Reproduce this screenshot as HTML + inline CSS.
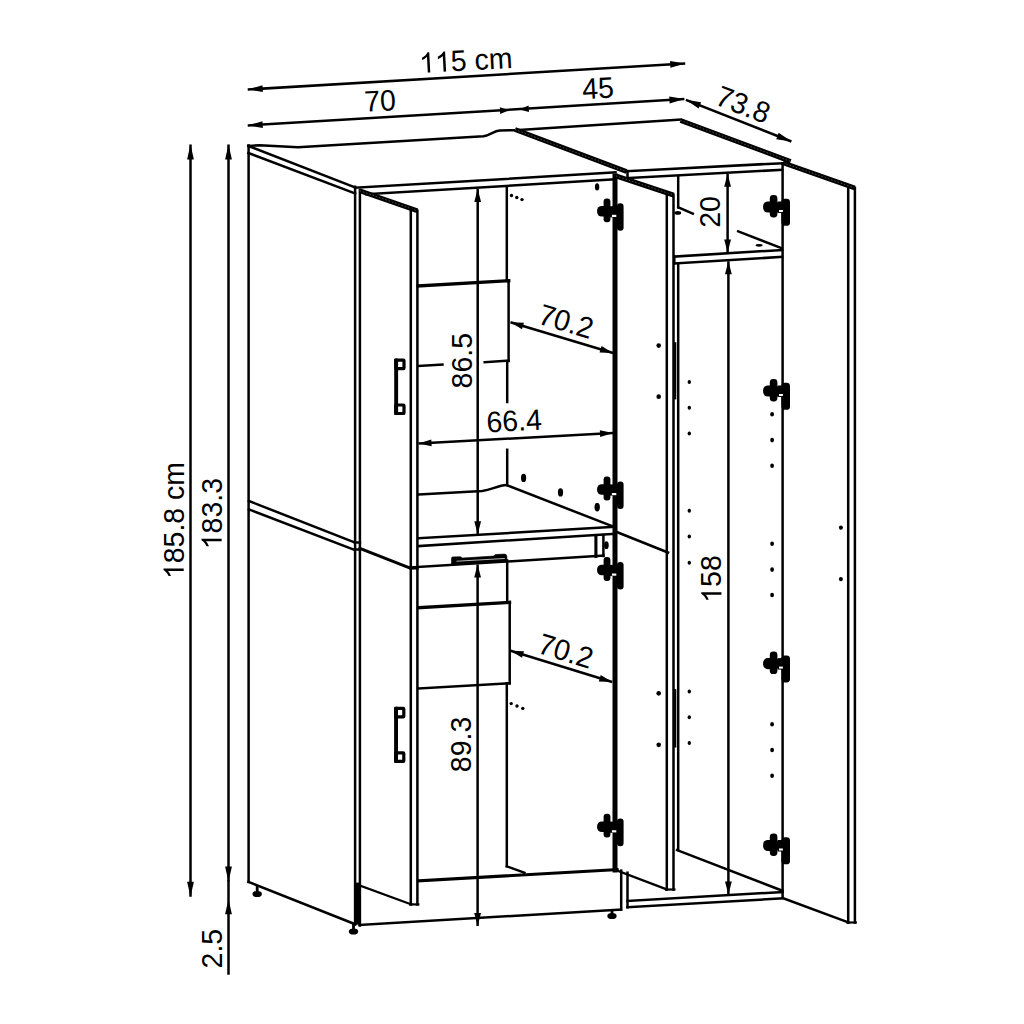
<!DOCTYPE html>
<html><head><meta charset="utf-8"><style>
html,body{margin:0;padding:0;background:#fff;}
svg{display:block;}
text{font-family:"Liberation Sans",sans-serif;fill:#000;stroke:none;}
</style></head><body>
<svg width="1024" height="1024" viewBox="0 0 1024 1024" stroke="#000" fill="none" stroke-linecap="square" stroke-linejoin="round">
<rect x="0" y="0" width="1024" height="1024" fill="#fff" stroke="none"/>
<line x1="247.7" y1="89.5" x2="685.2" y2="63.5" stroke-width="2.5" stroke-linecap="butt"/>
<path d="M247.70,89.50 L262.47,85.22 L262.88,92.00 Z" fill="#000" stroke="none"/>
<path d="M685.20,63.50 L670.43,67.78 L670.02,61.00 Z" fill="#000" stroke="none"/>
<line x1="247.7" y1="125.5" x2="684.4" y2="99.1" stroke-width="2.5" stroke-linecap="butt"/>
<path d="M247.70,125.50 L262.47,121.20 L262.88,127.99 Z" fill="#000" stroke="none"/>
<path d="M509.50,110.10 L500.21,113.95 L499.82,107.36 Z" fill="#000" stroke="none"/>
<path d="M519.30,109.40 L528.58,105.51 L528.99,112.10 Z" fill="#000" stroke="none"/>
<path d="M684.40,99.10 L669.63,103.40 L669.22,96.61 Z" fill="#000" stroke="none"/>
<line x1="685.9" y1="99.8" x2="791.4" y2="141.5" stroke-width="2.5" stroke-linecap="butt"/>
<path d="M685.90,99.80 L701.10,102.15 L698.60,108.48 Z" fill="#000" stroke="none"/>
<path d="M791.40,141.50 L776.20,139.15 L778.70,132.82 Z" fill="#000" stroke="none"/>
<line x1="190.5" y1="144.5" x2="190.5" y2="896.8" stroke-width="2.5" stroke-linecap="butt"/>
<path d="M190.50,144.50 L193.90,159.50 L187.10,159.50 Z" fill="#000" stroke="none"/>
<path d="M190.50,896.80 L187.10,881.80 L193.90,881.80 Z" fill="#000" stroke="none"/>
<line x1="228.5" y1="144.5" x2="228.5" y2="881.6" stroke-width="2.5" stroke-linecap="butt"/>
<path d="M228.50,144.50 L231.90,159.50 L225.10,159.50 Z" fill="#000" stroke="none"/>
<path d="M228.50,881.60 L225.10,866.60 L231.90,866.60 Z" fill="#000" stroke="none"/>
<line x1="228.5" y1="881.6" x2="228.5" y2="973.5" stroke-width="2.5"/>
<path d="M228.50,899.30 L231.90,914.30 L225.10,914.30 Z" fill="#000" stroke="none"/>
<line x1="477.7" y1="189.0" x2="477.7" y2="534.3" stroke-width="2.5" stroke-linecap="butt"/>
<path d="M477.70,189.00 L481.10,202.00 L474.30,202.00 Z" fill="#000" stroke="none"/>
<path d="M477.70,534.30 L474.30,521.30 L481.10,521.30 Z" fill="#000" stroke="none"/>
<line x1="477.6" y1="564.5" x2="477.6" y2="926.0" stroke-width="2.5" stroke-linecap="butt"/>
<path d="M477.60,564.50 L481.00,577.50 L474.20,577.50 Z" fill="#000" stroke="none"/>
<path d="M477.60,926.00 L474.20,913.00 L481.00,913.00 Z" fill="#000" stroke="none"/>
<line x1="510.5" y1="322.3" x2="613.0" y2="353.0" stroke-width="2.5" stroke-linecap="butt"/>
<path d="M510.50,322.30 L523.93,322.77 L521.98,329.29 Z" fill="#000" stroke="none"/>
<path d="M613.00,353.00 L599.57,352.53 L601.52,346.01 Z" fill="#000" stroke="none"/>
<line x1="418.5" y1="443.5" x2="613.0" y2="433.0" stroke-width="2.5" stroke-linecap="butt"/>
<path d="M418.50,443.50 L431.30,439.40 L431.66,446.19 Z" fill="#000" stroke="none"/>
<path d="M613.00,433.00 L600.20,437.10 L599.84,430.31 Z" fill="#000" stroke="none"/>
<line x1="510.6" y1="650.8" x2="612.2" y2="682.0" stroke-width="2.5" stroke-linecap="butt"/>
<path d="M510.60,650.80 L524.03,651.37 L522.03,657.87 Z" fill="#000" stroke="none"/>
<path d="M612.20,682.00 L598.77,681.43 L600.77,674.93 Z" fill="#000" stroke="none"/>
<line x1="727.6" y1="173.8" x2="727.6" y2="252.5" stroke-width="2.5" stroke-linecap="butt"/>
<path d="M727.60,173.80 L731.00,186.80 L724.20,186.80 Z" fill="#000" stroke="none"/>
<path d="M727.60,252.50 L724.20,239.50 L731.00,239.50 Z" fill="#000" stroke="none"/>
<line x1="728.4" y1="261.3" x2="728.4" y2="894.6" stroke-width="2.5" stroke-linecap="butt"/>
<path d="M728.40,261.30 L731.80,274.30 L725.00,274.30 Z" fill="#000" stroke="none"/>
<path d="M728.40,894.60 L725.00,881.60 L731.80,881.60 Z" fill="#000" stroke="none"/>
<line x1="248.6" y1="145.5" x2="248.6" y2="881.9" stroke-width="2.5"/>
<line x1="248.4" y1="146" x2="355.1" y2="187.5" stroke-width="2.5"/>
<line x1="248.4" y1="153" x2="355.1" y2="193.5" stroke-width="2.5"/>
<path d="M248.4,146 L259.5,145.2 L298,147.3 L483.4,136.3 C490,135 494,131 499.8,130.5 L515,130.2 L680.5,119.5" stroke-width="2.5" fill="none" />
<line x1="248.9" y1="501" x2="354.6" y2="542.4" stroke-width="2.5"/>
<line x1="248.9" y1="509.4" x2="354.6" y2="550" stroke-width="2.5"/>
<line x1="248.5" y1="881.9" x2="355.3" y2="924.3" stroke-width="2.5"/>
<line x1="355.1" y1="186.8" x2="355.1" y2="924.3" stroke-width="2.5"/>
<line x1="359.9" y1="190" x2="359.9" y2="925.5" stroke-width="2.5"/>
<rect x="354.3" y="882.6" width="5.2" height="42" fill="#000" stroke="none"/>
<rect x="255.79999999999998" y="885" width="2.8" height="8.5" fill="#000" stroke="none"/>
<ellipse cx="257.2" cy="894.0" rx="4.7" ry="3.1" fill="#000" stroke="none"/>
<rect x="352.1" y="924" width="2.8" height="7" fill="#000" stroke="none"/>
<ellipse cx="353.5" cy="931.5" rx="4.7" ry="3.1" fill="#000" stroke="none"/>
<rect x="610.6" y="909" width="2.8" height="6.5" fill="#000" stroke="none"/>
<ellipse cx="612.0" cy="916.0" rx="4.7" ry="3.1" fill="#000" stroke="none"/>
<line x1="355.1" y1="187.8" x2="615.5" y2="172.4" stroke-width="2.5"/>
<line x1="366.0" y1="194.3" x2="614.2" y2="179.4" stroke-width="2.5"/>
<line x1="515" y1="129.6" x2="626.5" y2="171.6" stroke-width="4.8" stroke-linecap="butt"/>
<line x1="515" y1="129.6" x2="626.5" y2="171.6" stroke="#fff" stroke-opacity="0.3" stroke-width="1.0" stroke-dasharray="1.5 1.9" stroke-linecap="butt"/>
<line x1="626.5" y1="171.2" x2="782" y2="163.2" stroke-width="2.5"/>
<line x1="629.2" y1="178.0" x2="782" y2="169.8" stroke-width="2.5"/>
<line x1="627.5" y1="171.1" x2="627.5" y2="177.5" stroke-width="2.5"/>
<line x1="680.5" y1="120.4" x2="790.6" y2="161.4" stroke-width="4.8" stroke-linecap="butt"/>
<line x1="680.5" y1="120.4" x2="790.6" y2="161.4" stroke="#fff" stroke-opacity="0.3" stroke-width="1.0" stroke-dasharray="1.5 1.9" stroke-linecap="butt"/>
<line x1="783.0" y1="162.8" x2="854.8" y2="188.0" stroke-width="4.8" stroke-linecap="butt"/>
<line x1="783.0" y1="162.8" x2="854.8" y2="188.0" stroke="#fff" stroke-opacity="0.3" stroke-width="1.0" stroke-dasharray="1.5 1.9" stroke-linecap="butt"/>
<line x1="359.7" y1="190.7" x2="417.3" y2="210.8" stroke-width="4.8" stroke-linecap="butt"/>
<line x1="359.7" y1="190.7" x2="417.3" y2="210.8" stroke="#fff" stroke-opacity="0.3" stroke-width="1.0" stroke-dasharray="1.5 1.9" stroke-linecap="butt"/>
<line x1="410.8" y1="208.5" x2="410.8" y2="904.4" stroke-width="2.5"/>
<line x1="417.4" y1="210.8" x2="417.4" y2="904.4" stroke-width="2.5"/>
<line x1="359.9" y1="548.4" x2="410.7" y2="568.3" stroke-width="3.0"/>
<line x1="354.9" y1="542.5" x2="359.9" y2="542.5" stroke-width="2.5"/>
<line x1="354.9" y1="549.5" x2="359.9" y2="549.5" stroke-width="2.5"/>
<line x1="410.7" y1="568.3" x2="417.3" y2="568.3" stroke-width="2.5"/>
<line x1="360.6" y1="885.8" x2="411.2" y2="904.4" stroke-width="2.2"/>
<line x1="410.3" y1="904.4" x2="418.3" y2="904.4" stroke-width="2.2"/>
<rect x="394.2" y="358.5" width="3.9" height="56.60" rx="0.8" fill="#000" stroke="none"/>
<rect x="395.80" y="360.10" width="8.20" height="8.50" rx="0.6" fill="none" stroke-width="3.2"/>
<rect x="395.80" y="405.00" width="8.20" height="8.50" rx="0.6" fill="none" stroke-width="3.2"/>
<rect x="394.1" y="706.7" width="3.9" height="56.30" rx="0.8" fill="#000" stroke="none"/>
<rect x="395.70" y="708.30" width="8.10" height="8.50" rx="0.6" fill="none" stroke-width="3.2"/>
<rect x="395.70" y="752.90" width="8.10" height="8.50" rx="0.6" fill="none" stroke-width="3.2"/>
<line x1="506.8" y1="186.7" x2="506.8" y2="281" stroke-width="2.5"/>
<line x1="418.2" y1="286.0" x2="508.7" y2="280.7" stroke-width="3.4"/>
<line x1="508.6" y1="280.7" x2="508.6" y2="361" stroke-width="2.5"/>
<line x1="418.5" y1="366.0" x2="442.5" y2="364.6" stroke-width="2.5"/>
<line x1="484.7" y1="362.2" x2="508.6" y2="360.6" stroke-width="2.5"/>
<line x1="507.2" y1="362" x2="507.2" y2="402" stroke-width="2.5"/>
<line x1="507.2" y1="449.8" x2="507.2" y2="485" stroke-width="2.5"/>
<path d="M418.5,494.6 L482.3,490.9 C492,489.5 498,485.5 506.5,485.0" stroke-width="2.5" fill="none" />
<line x1="507.2" y1="485.4" x2="613.5" y2="526.6" stroke-width="2.5"/>
<ellipse cx="523.6" cy="477.9" rx="2.6" ry="4.2" fill="#000" stroke="none"/>
<ellipse cx="560.5" cy="492.4" rx="2.6" ry="4.2" fill="#000" stroke="none"/>
<ellipse cx="597.2" cy="507.2" rx="2.6" ry="4.2" fill="#000" stroke="none"/>
<ellipse cx="597.1" cy="186.9" rx="2.2" ry="3.6" fill="#000" stroke="none"/>
<ellipse cx="511.5" cy="195.5" rx="1.7" ry="1.7" fill="#000" stroke="none"/>
<ellipse cx="516.8" cy="197.5" rx="1.7" ry="1.7" fill="#000" stroke="none"/>
<ellipse cx="522.0" cy="199.6" rx="1.7" ry="1.7" fill="#000" stroke="none"/>
<line x1="418.6" y1="538.2" x2="614.1" y2="526.9" stroke-width="2.5"/>
<line x1="418.6" y1="546.1" x2="614.7" y2="533.8" stroke-width="2.5"/>
<line x1="615.0" y1="526.9" x2="615.0" y2="533.8" stroke-width="2.5"/>
<line x1="595.9" y1="535.5" x2="595.9" y2="556.4" stroke-width="3.1"/>
<line x1="603.4" y1="535.0" x2="603.4" y2="556.0" stroke-width="2.5"/>
<ellipse cx="606.4" cy="545.2" rx="2.3" ry="3.9" fill="#000" stroke="none"/>
<line x1="410" y1="567.4" x2="603.4" y2="555.6" stroke-width="2.5"/>
<path d="M451.5,564.6 L451.5,558 Q451.6,556.9 453,556.9 L460.5,556.7 L462.5,558.0 L493.5,556.1 L495.5,554.5 L504.5,554.1 Q506.9,554.3 506.9,556.5 L506.9,561.0 Z" stroke-width="0.6" fill="#000" />
<line x1="457" y1="561.2" x2="504.3" y2="558.5" stroke="#fff" stroke-width="0.8" stroke-opacity="0.9"/>
<line x1="507.2" y1="560.5" x2="507.2" y2="602.0" stroke-width="2.5"/>
<line x1="418.6" y1="607.7" x2="509.5" y2="602.4" stroke-width="3.4"/>
<line x1="509.7" y1="602.4" x2="509.7" y2="683.3" stroke-width="2.5"/>
<line x1="418.8" y1="688.4" x2="509.7" y2="683.3" stroke-width="2.5"/>
<line x1="506.8" y1="683.3" x2="506.8" y2="866.3" stroke-width="2.5"/>
<line x1="506.8" y1="866.3" x2="524.4" y2="872.7" stroke-width="2.5"/>
<ellipse cx="511.2" cy="703.6" rx="1.7" ry="1.7" fill="#000" stroke="none"/>
<ellipse cx="517.0" cy="706.0" rx="1.7" ry="1.7" fill="#000" stroke="none"/>
<ellipse cx="522.8" cy="708.4" rx="1.7" ry="1.7" fill="#000" stroke="none"/>
<line x1="418.8" y1="880.8" x2="617.1" y2="869.6" stroke-width="3.2"/>
<line x1="359.5" y1="925.0" x2="621.0" y2="909.5" stroke-width="2.5"/>
<line x1="615.0" y1="176.0" x2="615.0" y2="870.0" stroke-width="5.0"/>
<line x1="615.8" y1="175.9" x2="673.7" y2="195.1" stroke-width="4.8" stroke-linecap="butt"/>
<line x1="615.8" y1="175.9" x2="673.7" y2="195.1" stroke="#fff" stroke-opacity="0.3" stroke-width="1.0" stroke-dasharray="1.5 1.9" stroke-linecap="butt"/>
<line x1="666.8" y1="193.5" x2="666.8" y2="889.5" stroke-width="2.5"/>
<line x1="673.5" y1="195.1" x2="673.5" y2="889.5" stroke-width="2.5"/>
<line x1="617.3" y1="532.2" x2="668.0" y2="552.5" stroke-width="2.6"/>
<line x1="617.1" y1="870.6" x2="667.0" y2="889.5" stroke-width="2.2"/>
<line x1="666.0" y1="889.5" x2="674.4" y2="889.5" stroke-width="2.2"/>
<ellipse cx="658.7" cy="345.6" rx="2.3" ry="2.4" fill="#000" stroke="none"/>
<ellipse cx="658.7" cy="396.7" rx="2.3" ry="2.4" fill="#000" stroke="none"/>
<ellipse cx="658.7" cy="693.3" rx="2.3" ry="2.4" fill="#000" stroke="none"/>
<ellipse cx="658.7" cy="744.8" rx="2.3" ry="2.4" fill="#000" stroke="none"/>
<g transform="translate(614.6,198.4)" fill="#000" stroke="none"><rect x="-11.0" y="0.0" width="6.8" height="23.8" rx="3.0"/><rect x="-17.5" y="7.6" width="14.0" height="10.6" rx="4.6"/><rect x="2.4" y="4.8" width="6.6" height="27.6" rx="3.2"/><rect x="-5" y="7.8" width="7" height="11.2" rx="0"/><rect x="-2.7" y="16.4" width="4.4" height="2.2" fill="#fff"/></g>
<g transform="translate(614.6,476.6)" fill="#000" stroke="none"><rect x="-11.0" y="0.0" width="6.8" height="23.8" rx="3.0"/><rect x="-17.5" y="7.6" width="14.0" height="10.6" rx="4.6"/><rect x="2.4" y="4.8" width="6.6" height="27.6" rx="3.2"/><rect x="-5" y="7.8" width="7" height="11.2" rx="0"/><rect x="-2.7" y="16.4" width="4.4" height="2.2" fill="#fff"/></g>
<g transform="translate(614.6,557.1)" fill="#000" stroke="none"><rect x="-11.0" y="0.0" width="6.8" height="23.8" rx="3.0"/><rect x="-17.5" y="7.6" width="14.0" height="10.6" rx="4.6"/><rect x="2.4" y="4.8" width="6.6" height="27.6" rx="3.2"/><rect x="-5" y="7.8" width="7" height="11.2" rx="0"/><rect x="-2.7" y="16.4" width="4.4" height="2.2" fill="#fff"/></g>
<g transform="translate(614.6,813.8)" fill="#000" stroke="none"><rect x="-11.0" y="0.0" width="6.8" height="23.8" rx="3.0"/><rect x="-17.5" y="7.6" width="14.0" height="10.6" rx="4.6"/><rect x="2.4" y="4.8" width="6.6" height="27.6" rx="3.2"/><rect x="-5" y="7.8" width="7" height="11.2" rx="0"/><rect x="-2.7" y="16.4" width="4.4" height="2.2" fill="#fff"/></g>
<ellipse cx="597.1" cy="506.7" rx="2.3" ry="3.7" fill="#000" stroke="none"/>
<line x1="621.2" y1="870.6" x2="621.2" y2="909.5" stroke-width="2.5"/>
<line x1="627.5" y1="872.7" x2="627.5" y2="907.3" stroke-width="2.5"/>
<line x1="627.5" y1="901.0" x2="782.5" y2="892.0" stroke-width="2.5"/>
<line x1="627.5" y1="907.3" x2="782.5" y2="898.4" stroke-width="2.5"/>
<line x1="678.2" y1="176.7" x2="678.2" y2="207.4" stroke-width="2.5"/>
<line x1="678.4" y1="207.4" x2="692.8" y2="213.6" stroke-width="2.5"/>
<ellipse cx="677.8" cy="212.9" rx="3.4" ry="1.8" fill="#000" stroke="none"/>
<line x1="674.3" y1="256.6" x2="782.0" y2="250.0" stroke-width="2.5"/>
<line x1="674.3" y1="263.5" x2="782.0" y2="256.9" stroke-width="2.5"/>
<line x1="674.3" y1="256.6" x2="674.3" y2="263.5" stroke-width="2.5"/>
<line x1="738.2" y1="231.3" x2="781.0" y2="248.0" stroke-width="2.5"/>
<ellipse cx="759.1" cy="245.3" rx="3.5" ry="1.4" fill="#000" stroke="none"/>
<line x1="678.2" y1="263.5" x2="678.2" y2="850.1" stroke-width="2.5"/>
<line x1="677.1" y1="850.1" x2="782.5" y2="890.8" stroke-width="2.5"/>
<line x1="675.2" y1="343.3" x2="675.2" y2="398.3" stroke-width="2.2"/>
<line x1="675.2" y1="690.2" x2="675.2" y2="746.5" stroke-width="2.2"/>
<ellipse cx="689.3" cy="382" rx="1.7" ry="2.0" fill="#000" stroke="none"/>
<ellipse cx="689.3" cy="407.7" rx="1.7" ry="2.0" fill="#000" stroke="none"/>
<ellipse cx="689.3" cy="433.5" rx="1.7" ry="2.0" fill="#000" stroke="none"/>
<ellipse cx="689.3" cy="510.8" rx="1.7" ry="2.0" fill="#000" stroke="none"/>
<ellipse cx="689.3" cy="536.5" rx="1.7" ry="2.0" fill="#000" stroke="none"/>
<ellipse cx="689.3" cy="562.7" rx="1.7" ry="2.0" fill="#000" stroke="none"/>
<ellipse cx="689.3" cy="691.4" rx="1.7" ry="2.0" fill="#000" stroke="none"/>
<ellipse cx="689.3" cy="717.2" rx="1.7" ry="2.0" fill="#000" stroke="none"/>
<ellipse cx="689.3" cy="743" rx="1.7" ry="2.0" fill="#000" stroke="none"/>
<ellipse cx="772.1" cy="414.3" rx="1.9" ry="2.3" fill="#000" stroke="none"/>
<ellipse cx="772.1" cy="440.1" rx="1.9" ry="2.3" fill="#000" stroke="none"/>
<ellipse cx="772.1" cy="465.8" rx="1.9" ry="2.3" fill="#000" stroke="none"/>
<ellipse cx="772.1" cy="543.8" rx="1.9" ry="2.3" fill="#000" stroke="none"/>
<ellipse cx="772.1" cy="569.6" rx="1.9" ry="2.3" fill="#000" stroke="none"/>
<ellipse cx="772.1" cy="595" rx="1.9" ry="2.3" fill="#000" stroke="none"/>
<ellipse cx="772.1" cy="724.2" rx="1.9" ry="2.3" fill="#000" stroke="none"/>
<ellipse cx="772.1" cy="750" rx="1.9" ry="2.3" fill="#000" stroke="none"/>
<ellipse cx="772.1" cy="775.8" rx="1.9" ry="2.3" fill="#000" stroke="none"/>
<line x1="782.6" y1="163.2" x2="782.6" y2="897.5" stroke-width="2.5"/>
<g transform="translate(782.6,195.0)" fill="#000" stroke="none"><rect x="-12.8" y="0.0" width="7.6" height="22.5" rx="3.4"/><rect x="-19.5" y="6.4" width="16.5" height="11.2" rx="4.8"/><rect x="-1.2" y="3.8" width="8.6" height="27.0" rx="3.4"/><rect x="-5" y="6.5" width="6" height="11.5" rx="0"/><rect x="-3.6" y="15.0" width="3.9" height="2.0" fill="#fff"/></g>
<g transform="translate(782.6,379.0)" fill="#000" stroke="none"><rect x="-12.8" y="0.0" width="7.6" height="22.5" rx="3.4"/><rect x="-19.5" y="6.4" width="16.5" height="11.2" rx="4.8"/><rect x="-1.2" y="3.8" width="8.6" height="27.0" rx="3.4"/><rect x="-5" y="6.5" width="6" height="11.5" rx="0"/><rect x="-3.6" y="15.0" width="3.9" height="2.0" fill="#fff"/></g>
<g transform="translate(782.6,651.6)" fill="#000" stroke="none"><rect x="-12.8" y="0.0" width="7.6" height="22.5" rx="3.4"/><rect x="-19.5" y="6.4" width="16.5" height="11.2" rx="4.8"/><rect x="-1.2" y="3.8" width="8.6" height="27.0" rx="3.4"/><rect x="-5" y="6.5" width="6" height="11.5" rx="0"/><rect x="-3.6" y="15.0" width="3.9" height="2.0" fill="#fff"/></g>
<g transform="translate(782.6,833.5)" fill="#000" stroke="none"><rect x="-12.8" y="0.0" width="7.6" height="22.5" rx="3.4"/><rect x="-19.5" y="6.4" width="16.5" height="11.2" rx="4.8"/><rect x="-1.2" y="3.8" width="8.6" height="27.0" rx="3.4"/><rect x="-5" y="6.5" width="6" height="11.5" rx="0"/><rect x="-3.6" y="15.0" width="3.9" height="2.0" fill="#fff"/></g>
<line x1="848.2" y1="189.0" x2="848.2" y2="922.5" stroke-width="2.5"/>
<line x1="854.9" y1="188.0" x2="854.9" y2="922.5" stroke-width="2.5"/>
<line x1="783.8" y1="898.4" x2="848.5" y2="922.5" stroke-width="2.5"/>
<line x1="847.3" y1="922.5" x2="855.8" y2="922.5" stroke-width="2.2"/>
<ellipse cx="840.9" cy="527.6" rx="2.0" ry="2.2" fill="#000" stroke="none"/>
<ellipse cx="840.9" cy="579.1" rx="2.0" ry="2.2" fill="#000" stroke="none"/>
<g transform="translate(466.35,70.5) rotate(-3) scale(1,1.035)"><path transform="translate(-46.73,0) scale(0.01392,-0.01324)" d="M763 0H583V1147Q518 1085 412.5 1023T223 930V1104Q375 1175 489 1276T650 1472H763V0Z" fill="#000" stroke="none"/><path transform="translate(-30.88,0) scale(0.01392,-0.01324)" d="M763 0H583V1147Q518 1085 412.5 1023T223 930V1104Q375 1175 489 1276T650 1472H763V0Z" fill="#000" stroke="none"/><text y="0" font-size="28.5"><tspan x="-15.03">5</tspan><tspan x="8.74">c</tspan><tspan x="22.99">m</tspan></text></g>
<g transform="translate(380.57,111.0) rotate(-3) scale(1,1.035)"><text y="0" font-size="28.5"><tspan x="-15.85">7</tspan><tspan x="0.00">0</tspan></text></g>
<g transform="translate(598.45,98.35) rotate(-3) scale(1,1.035)"><text y="0" font-size="28.5"><tspan x="-15.85">4</tspan><tspan x="0.00">5</tspan></text></g>
<g transform="translate(739.5,114.05) rotate(21.3) scale(1,1.035)"><text y="0" font-size="28.5"><tspan x="-27.73">7</tspan><tspan x="-11.88">3</tspan><tspan x="3.97">.</tspan><tspan x="11.88">8</tspan></text></g>
<g transform="translate(183.7,520.5) rotate(-90) scale(1,1.035)"><path transform="translate(-58.61,0) scale(0.01392,-0.01324)" d="M763 0H583V1147Q518 1085 412.5 1023T223 930V1104Q375 1175 489 1276T650 1472H763V0Z" fill="#000" stroke="none"/><text y="0" font-size="28.5"><tspan x="-42.76">8</tspan><tspan x="-26.91">5</tspan><tspan x="-11.06">.</tspan><tspan x="-3.15">8</tspan><tspan x="20.62">c</tspan><tspan x="34.87">m</tspan></text></g>
<g transform="translate(221.65,513.65) rotate(-90) scale(1,1.035)"><path transform="translate(-35.66,0) scale(0.01392,-0.01324)" d="M763 0H583V1147Q518 1085 412.5 1023T223 930V1104Q375 1175 489 1276T650 1472H763V0Z" fill="#000" stroke="none"/><text y="0" font-size="28.5"><tspan x="-19.81">8</tspan><tspan x="-3.96">3</tspan><tspan x="11.89">.</tspan><tspan x="19.81">3</tspan></text></g>
<g transform="translate(471.65,360.7) rotate(-90) scale(1,1.035)"><text y="0" font-size="28.5"><tspan x="-27.73">8</tspan><tspan x="-11.88">6</tspan><tspan x="3.97">.</tspan><tspan x="11.88">5</tspan></text></g>
<g transform="translate(471.25,744.4) rotate(-90) scale(1,1.035)"><text y="0" font-size="28.5"><tspan x="-27.73">8</tspan><tspan x="-11.88">9</tspan><tspan x="3.97">.</tspan><tspan x="11.88">3</tspan></text></g>
<g transform="translate(720.35,212.0) rotate(-90) scale(1,1.035)"><text y="0" font-size="28.5"><tspan x="-15.85">2</tspan><tspan x="0.00">0</tspan></text></g>
<g transform="translate(721.45,579.0) rotate(-90) scale(1,1.035)"><path transform="translate(-23.78,0) scale(0.01392,-0.01324)" d="M763 0H583V1147Q518 1085 412.5 1023T223 930V1104Q375 1175 489 1276T650 1472H763V0Z" fill="#000" stroke="none"/><text y="0" font-size="28.5"><tspan x="-7.93">5</tspan><tspan x="7.93">8</tspan></text></g>
<g transform="translate(222.1,948.6) rotate(-90) scale(1,1.035)"><text y="0" font-size="28.5"><tspan x="-19.81">2</tspan><tspan x="-3.96">.</tspan><tspan x="3.96">5</tspan></text></g>
<g transform="translate(514.65,431.0) rotate(-3) scale(1,1.035)"><text y="0" font-size="28.5"><tspan x="-27.73">6</tspan><tspan x="-11.88">6</tspan><tspan x="3.97">.</tspan><tspan x="11.88">4</tspan></text></g>
<g transform="translate(563.2,331.15) rotate(16.7) scale(1,1.035)"><text y="0" font-size="28.5"><tspan x="-27.73">7</tspan><tspan x="-11.88">0</tspan><tspan x="3.97">.</tspan><tspan x="11.88">2</tspan></text></g>
<g transform="translate(562.8,660.75) rotate(17.1) scale(1,1.035)"><text y="0" font-size="28.5"><tspan x="-27.73">7</tspan><tspan x="-11.88">0</tspan><tspan x="3.97">.</tspan><tspan x="11.88">2</tspan></text></g>
</svg>
</body></html>
